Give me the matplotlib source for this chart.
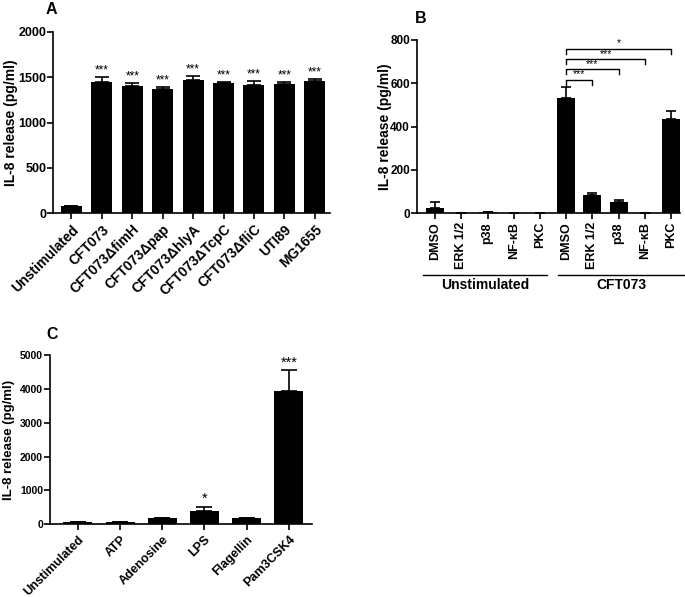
import matplotlib as mpl
import matplotlib.pyplot as plt
import numpy as np

mpl.rcParams['font.family'] = ['Liberation Sans', 'DejaVu Sans']
mpl.rcParams['font.weight'] = 'bold'
mpl.rcParams['axes.labelweight'] = 'bold'
mpl.rcParams['axes.linewidth'] = 1.2
mpl.rcParams['xtick.major.width'] = 1.2
mpl.rcParams['ytick.major.width'] = 1.2
mpl.rcParams['xtick.major.size'] = 4.5
mpl.rcParams['ytick.major.size'] = 4

label_size = 10
panel_size = 11.5

# Panel A data
a_labels = ["Unstimulated", "CFT073", "CFT073\u0394fimH", "CFT073\u0394pap", "CFT073\u0394hlyA",
            "CFT073\u0394TcpC", "CFT073\u0394fliC", "UTI89", "MG1655"]
a_values = [82, 1449, 1405, 1369, 1468, 1432, 1410, 1421, 1460]
a_errors = [0, 48, 27, 19, 44, 14, 50, 28, 22]
a_stars = ["", "***", "***", "***", "***", "***", "***", "***", "***"]

# Panel B data
b_labels = ["DMSO", "ERK 1/2", "p38", "NF-\u03baB", "PKC", "DMSO", "ERK 1/2", "p38", "NF-\u03baB", "PKC"]
b_values = [25, 0, 4, 0, 0, 531, 84, 50, 0, 434]
b_errors = [25, 0, 2, 0, 0, 50, 8, 9, 0, 40]
b_groups = ["Unstimulated", "CFT073"]
# comparisons: (from bar, to bar, bracket level, text)
b_brackets = [(5, 6, 616, "***"), (5, 7, 665, "***"), (5, 8, 711, "***"), (5, 9, 759, "*")]

# Panel C data
c_labels = ["Unstimulated", "ATP", "Adenosine", "LPS", "Flagellin", "Pam3CSK4"]
c_values = [55, 60, 188, 390, 195, 3930]
c_errors = [0, 0, 0, 135, 0, 620]
c_stars = ["", "", "", "*", "", "***"]


def style_axis(ax, ylabel_x, num_size, text_size, ylabel_size=label_size):
    ax.spines['top'].set_visible(False)
    ax.spines['right'].set_visible(False)
    ax.tick_params(axis='y', labelsize=num_size, pad=1)
    ax.tick_params(axis='x', labelsize=text_size, pad=2)
    for lab in ax.get_yticklabels():
        lab.set_fontweight('bold')
    ax.set_ylabel("IL-8 release (pg/ml)", fontsize=ylabel_size)
    ax.yaxis.set_label_coords(ylabel_x, 0.5)


def bar_panel(ax, values, errors, capsize):
    x = np.arange(len(values))
    ax.bar(x, values, width=0.69, color='black', edgecolor='black', linewidth=0)
    yerr = [np.zeros(len(errors)), errors]
    ax.errorbar(x, values, yerr=yerr, fmt='none', ecolor='black', elinewidth=1.2,
                capsize=capsize, capthick=1.2)
    return x


fig = plt.figure(figsize=(6.85, 5.97), dpi=100)

# ---- Panel A ----
axA = fig.add_axes([0.0781, 0.6427, 0.4037, 0.3042])
x = bar_panel(axA, a_values, a_errors, 5)
for xi, v, e, s in zip(x, a_values, a_errors, a_stars):
    if s:
        axA.text(xi, v + e + 5, s, ha='center', va='bottom', fontsize=8.5, fontweight='normal')
axA.set_xlim(-0.59, 8.5)
axA.set_ylim(0, 2000)
axA.set_yticks([0, 500, 1000, 1500, 2000])
axA.set_xticks(x)
axA.set_xticklabels(a_labels, rotation=45, ha='right', rotation_mode='anchor', fontweight='bold')
style_axis(axA, -0.13, 9, 10)
fig.text(0.066, 0.997, "A", fontsize=panel_size, fontweight='bold', va='top')

# ---- Panel B ----
axB = fig.add_axes([0.6088, 0.6432, 0.3839, 0.2898])
x = bar_panel(axB, b_values, b_errors, 3.6)
for i0, i1, level, s in b_brackets:
    leg = 22
    axB.plot([x[i0], x[i0], x[i1], x[i1]], [level - leg, level, level, level - leg],
             color='black', lw=1.0, clip_on=False)
    axB.text((x[i0] + x[i1]) / 2, level + 2, s, ha='center', va='bottom', fontsize=7.5,
             fontweight='normal')
axB.set_xlim(-0.69, 9.34)
axB.set_ylim(0, 800)
axB.set_yticks([0, 200, 400, 600, 800])
axB.set_xticks(x)
axB.set_xticklabels(b_labels, rotation=90, fontweight='bold')
style_axis(axB, -0.095, 8.5, 9)
trans = axB.get_xaxis_transform()
group_spans = [(-0.46, 4.26), (4.70, 9.53)]
for name, (g0, g1) in zip(b_groups, group_spans):
    axB.plot([g0, g1], [-0.359, -0.359], color='black', lw=1.0, transform=trans, clip_on=False)
    axB.text((g0 + g1) / 2, -0.375, name, ha='center', va='top', fontsize=10,
             fontweight='bold', transform=trans)
fig.text(0.606, 0.982, "B", fontsize=panel_size, fontweight='bold', va='top')

# ---- Panel C ----
axC = fig.add_axes([0.073, 0.1218, 0.382, 0.2836])
x = bar_panel(axC, c_values, c_errors, 5.8)
for xi, v, e, s in zip(x, c_values, c_errors, c_stars):
    if s:
        axC.text(xi, v + e + 10, s, ha='center', va='bottom', fontsize=10.5, fontweight='normal')
axC.set_xlim(-0.66, 5.54)
axC.set_ylim(0, 5000)
axC.set_yticks([0, 1000, 2000, 3000, 4000, 5000])
axC.set_xticks(x)
axC.set_xticklabels(c_labels, rotation=45, ha='right', rotation_mode='anchor', fontweight='bold')
style_axis(axC, -0.135, 7.5, 9, 9.5)
fig.text(0.067, 0.452, "C", fontsize=panel_size, fontweight='bold', va='top')

plt.savefig("out.png", dpi=100)
